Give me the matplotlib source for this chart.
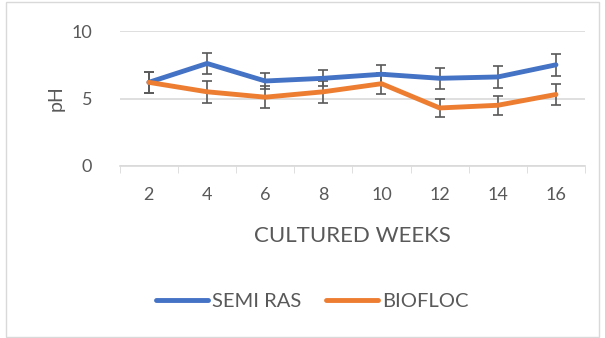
import matplotlib.pyplot as plt
from matplotlib.patches import Rectangle

weeks = [2, 4, 6, 8, 10, 12, 14, 16]
semi_ras = [6.2, 7.6, 6.3, 6.5, 6.8, 6.5, 6.6, 7.5]
semi_ras_err = [0.8, 0.8, 0.6, 0.6, 0.7, 0.8, 0.8, 0.8]
biofloc = [6.2, 5.5, 5.1, 5.5, 6.1, 4.3, 4.5, 5.3]
biofloc_err = [0.8, 0.8, 0.8, 0.8, 0.8, 0.7, 0.7, 0.8]

plt.rcParams['font.family'] = ['Lato', 'DejaVu Sans']
text_color = '#595959'

fig = plt.figure(figsize=(6.05, 3.38), dpi=100)
ax = fig.add_axes([0.198, 0.509, 0.769, 0.399])

# chart border
fig.patches.append(Rectangle((6 / 605, 1 / 338), 593 / 605, 335 / 338, transform=fig.transFigure,
                             fill=False, edgecolor='#D9D9D9', linewidth=1))

ax.errorbar(weeks, semi_ras, yerr=semi_ras_err, color='#4472C4', linewidth=3.5,
            ecolor='#595959', elinewidth=1.2, capsize=3.5, capthick=1.2, label='SEMI RAS',
            solid_capstyle='round', zorder=3)
ax.errorbar(weeks, biofloc, yerr=biofloc_err, color='#ED7D31', linewidth=3.5,
            ecolor='#595959', elinewidth=1.2, capsize=3.5, capthick=1.2, label='BIOFLOC',
            solid_capstyle='round', zorder=3)

ax.set_xlim(1, 17)
ax.set_ylim(0, 10)
ax.set_yticks([0, 5, 10])
ax.set_xticks(weeks)
ax.set_xticks(range(1, 18, 2), minor=True)
ax.tick_params(axis='x', which='major', length=0, pad=15, labelsize=13, labelcolor=text_color)
ax.tick_params(axis='x', which='minor', length=5, color='#D9D9D9', direction='out')
ax.tick_params(axis='y', length=0, pad=20, labelsize=13, labelcolor=text_color)
ax.grid(axis='y', color='#D9D9D9', linewidth=1.2)
ax.set_axisbelow(True)
for s in ['top', 'right', 'left']:
    ax.spines[s].set_visible(False)
ax.spines['bottom'].set_color('#D9D9D9')
ax.spines['bottom'].set_linewidth(1.2)

ax.set_ylabel('pH', fontsize=14, color=text_color, labelpad=5)
ax.set_xlabel('CULTURED WEEKS', fontsize=16, color=text_color, labelpad=17)

handles, labels = ax.get_legend_handles_labels()
handles = [h[0] for h in handles]
fig.legend(handles, labels, loc='center', bbox_to_anchor=(0.516, 0.109), ncol=2, frameon=False,
           fontsize=14.5, labelcolor=text_color, handlelength=2.6, columnspacing=1.2, handletextpad=0.2)

fig.savefig('out.png', dpi=100)
